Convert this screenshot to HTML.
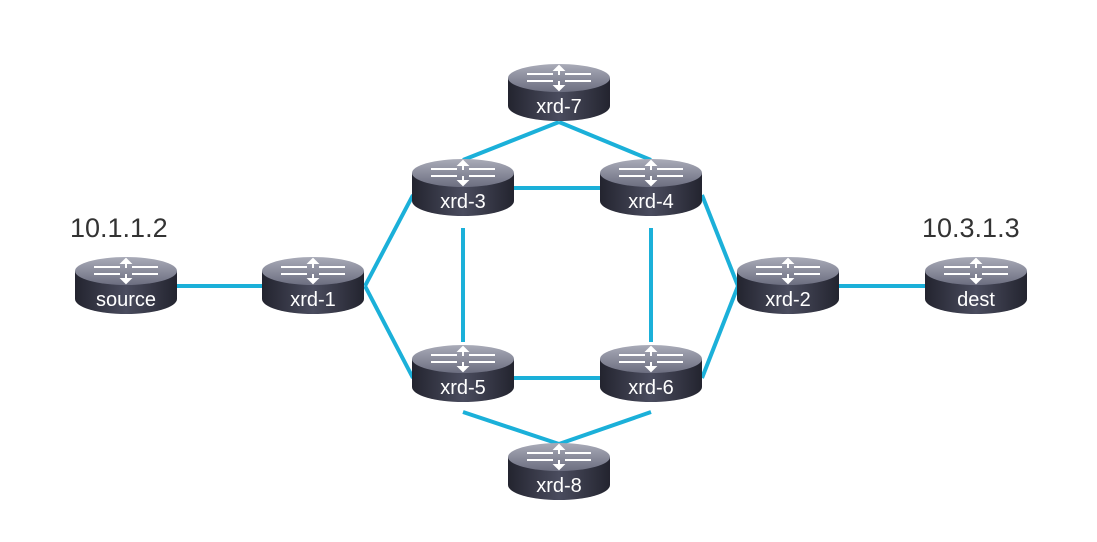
<!DOCTYPE html>
<html><head><meta charset="utf-8"><style>
body{margin:0;background:#fff;width:1097px;height:542px;overflow:hidden}
svg{display:block}
</style></head><body>
<svg id="net" width="1097" height="542" viewBox="0 0 1097 542">
<defs>
<linearGradient id="body" x1="0" x2="1" y1="0" y2="0">
<stop offset="0" stop-color="#23242f"/><stop offset="0.5" stop-color="#4a4c5e"/><stop offset="1" stop-color="#23242f"/>
</linearGradient>
<linearGradient id="top" x1="0" x2="0" y1="0" y2="1">
<stop offset="0" stop-color="#a9abb8"/><stop offset="1" stop-color="#6c6e80"/>
</linearGradient>
</defs>
<g id="links"></g>
<g id="nodes"></g>
<text x="70" y="237" font-family="Liberation Sans, sans-serif" font-size="27" fill="#333">10.1.1.2</text>
<text x="922" y="237" font-family="Liberation Sans, sans-serif" font-size="27" fill="#333">10.3.1.3</text>
</svg>
<script>
const nodeNames=['source','xrd-1','xrd-3','xrd-4','xrd-5','xrd-6','xrd-7','xrd-8','xrd-2','dest'];
const nodeX=[126,313,463,651,463,651,559,559,788,976];
const nodeY=[257,257,159,159,345,345,64,443,257,257];
const links=[[[177,286],[262,286]],[[365,286],[413,195]],[[365,286],[413,378]],[[514,188],[600,188]],[[463,228],[463,342]],[[651,228],[651,342]],[[514,378],[600,378]],[[559,122],[463,160]],[[559,122],[651,160]],[[559,444],[463,412]],[[559,444],[651,412]],[[702,195],[738,286]],[[702,378],[738,286]],[[839,286],[925,286]]];
const NS='http://www.w3.org/2000/svg';
const lg=document.getElementById('links');
links.forEach(l=>{
 const e=document.createElementNS(NS,'line');
 e.setAttribute('x1',l[0][0]);e.setAttribute('y1',l[0][1]);e.setAttribute('x2',l[1][0]);e.setAttribute('y2',l[1][1]);
 e.setAttribute('stroke','#1bb0d9');e.setAttribute('stroke-width','4');
 
 
 lg.appendChild(e);
});
const ng=document.getElementById('nodes');
nodeNames.forEach((n,i)=>{
 const cx=nodeX[i],t=nodeY[i],w=51;
 const g=document.createElementNS(NS,'g');
 
 
 g.innerHTML=
 `<path d="M${cx-w} ${t+14} L${cx-w} ${t+42} A${w} 15 0 0 0 ${cx+w} ${t+42} L${cx+w} ${t+14} Z" fill="url(#body)"/>`+
 `<ellipse cx="${cx}" cy="${t+14}" rx="${w}" ry="14" fill="url(#top)"/>`+
 `<g stroke="#fff" stroke-width="2" fill="#fff">
  <line x1="${cx-32}" y1="${t+10}" x2="${cx-6}" y2="${t+10}"/><line x1="${cx+6}" y1="${t+10}" x2="${cx+32}" y2="${t+10}"/>
  <line x1="${cx-32}" y1="${t+17}" x2="${cx-6}" y2="${t+17}"/><line x1="${cx+6}" y1="${t+17}" x2="${cx+32}" y2="${t+17}"/>
  <line x1="${cx}" y1="${t+4}" x2="${cx}" y2="${t+11}"/><line x1="${cx}" y1="${t+17}" x2="${cx}" y2="${t+24}"/>
  <path d="M${cx-4} ${t+6} L${cx} ${t+2} L${cx+4} ${t+6}Z"/><path d="M${cx-4} ${t+22} L${cx} ${t+26} L${cx+4} ${t+22}Z"/>
 </g>`+
 `<text x="${cx}" y="${t+49}" text-anchor="middle" font-family="Liberation Sans, sans-serif" font-size="20" fill="#fff">${n}</text>`;
 ng.appendChild(g);
});
</script>
</body></html>
